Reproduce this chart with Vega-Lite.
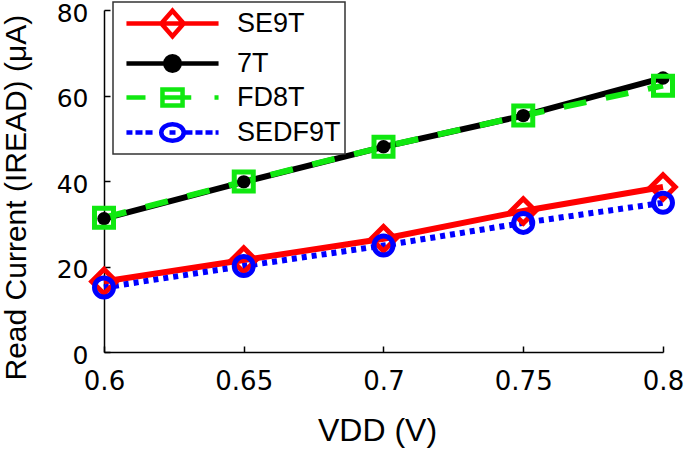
{
  "$schema": "https://vega.github.io/schema/vega-lite/v6.json",
  "width": 559,
  "height": 342,
  "autosize": {"type": "none"},
  "padding": {"left": 104, "top": 10, "right": 22, "bottom": 104},
  "background": "white",
  "config": {
    "view": {"stroke": null},
    "axis": {
      "grid": false,
      "domainColor": "black",
      "domainWidth": 1.5,
      "tickColor": "black",
      "tickWidth": 1.5,
      "tickSize": -6,
      "labelFont": "DejaVu Sans",
      "labelFontSize": 26,
      "labelColor": "black",
      "labelFlush": false,
      "labelOverlap": false,
      "titleFont": "Liberation Sans",
      "titleFontWeight": "normal",
      "titleColor": "black"
    },
    "legend": {
      "labelFont": "Liberation Sans",
      "labelFontSize": 27,
      "labelColor": "black",
      "fillColor": "white",
      "strokeColor": "#333333",
      "strokeWidth": 1.5,
      "padding": 4,
      "rowPadding": 0,
      "symbolSize": 900,
      "symbolStrokeWidth": 4.5,
      "symbolOffset": 38,
      "labelOffset": 47,
      "symbolOpacity": 1,
      "symbolFillColor": "transparent"
    }
  },
  "data": {
    "values": [
      {"v": 0.6, "s": "SE9T", "i": 16.5},
      {"v": 0.65, "s": "SE9T", "i": 21.5},
      {"v": 0.7, "s": "SE9T", "i": 26.5},
      {"v": 0.75, "s": "SE9T", "i": 33},
      {"v": 0.8, "s": "SE9T", "i": 38.6},
      {"v": 0.6, "s": "7T", "i": 31.2},
      {"v": 0.65, "s": "7T", "i": 39.8},
      {"v": 0.7, "s": "7T", "i": 48},
      {"v": 0.75, "s": "7T", "i": 55.3},
      {"v": 0.8, "s": "7T", "i": 64.1},
      {"v": 0.6, "s": "FD8T", "i": 31.4},
      {"v": 0.65, "s": "FD8T", "i": 39.9},
      {"v": 0.7, "s": "FD8T", "i": 48},
      {"v": 0.75, "s": "FD8T", "i": 55.3},
      {"v": 0.8, "s": "FD8T", "i": 62.3},
      {"v": 0.6, "s": "SEDF9T", "i": 15.1},
      {"v": 0.65, "s": "SEDF9T", "i": 20.1},
      {"v": 0.7, "s": "SEDF9T", "i": 24.9},
      {"v": 0.75, "s": "SEDF9T", "i": 30.2},
      {"v": 0.8, "s": "SEDF9T", "i": 34.9}
    ]
  },
  "encoding": {
    "x": {
      "field": "v",
      "type": "quantitative",
      "scale": {"domain": [0.6, 0.8], "nice": false, "zero": false},
      "axis": {
        "values": [0.6, 0.65, 0.7, 0.75, 0.8],
        "labelExpr": "'' + datum.value",
        "labelPadding": 22,
        "title": "VDD (V)",
        "titleFontSize": 32,
        "titleX": 273,
        "titleY": 88,
        "titleBaseline": "alphabetic"
      }
    },
    "y": {
      "field": "i",
      "type": "quantitative",
      "scale": {"domain": [0, 80], "nice": false},
      "axis": {
        "values": [0, 20, 40, 60, 80],
        "labelPadding": 22,
        "labelOffset": 3,
        "labelFontSize": 25,
        "title": "Read Current (IREAD) (μA)",
        "titleFontSize": 30,
        "titleAngle": 270,
        "titleAlign": "left",
        "titleBaseline": "alphabetic",
        "titleX": -79,
        "titleY": 370
      }
    }
  },
  "layer": [
    {
      "transform": [{"filter": "datum.s === '7T'"}],
      "mark": {"type": "line", "color": "black", "strokeWidth": 6}
    },
    {
      "transform": [{"filter": "datum.s === 'FD8T'"}],
      "mark": {"type": "line", "color": "#10e810", "strokeWidth": 6, "strokeDash": [23, 20]}
    },
    {
      "transform": [{"filter": "datum.s === 'SE9T'"}],
      "mark": {"type": "line", "color": "#ff0000", "strokeWidth": 6}
    },
    {
      "transform": [{"filter": "datum.s === 'SEDF9T'"}],
      "mark": {"type": "line", "color": "#0000ff", "strokeWidth": 6, "strokeDash": [5, 5]}
    },
    {
      "transform": [{"filter": "datum.s === '7T'"}],
      "mark": {"type": "point", "shape": "circle", "filled": true, "color": "black", "size": 180, "opacity": 1}
    },
    {
      "transform": [{"filter": "datum.s === 'FD8T'"}],
      "mark": {"type": "point", "shape": "square", "filled": false, "color": "#10e810", "size": 361, "strokeWidth": 5, "opacity": 1}
    },
    {
      "transform": [{"filter": "datum.s === 'SE9T'"}],
      "mark": {"type": "point", "shape": "diamond", "filled": false, "color": "#ff0000", "size": 600, "strokeWidth": 5, "opacity": 1}
    },
    {
      "transform": [{"filter": "datum.s === 'SEDF9T'"}],
      "mark": {"type": "point", "shape": "circle", "filled": false, "color": "#0000ff", "size": 360, "strokeWidth": 5, "opacity": 1}
    },
    {
      "mark": {"type": "point", "filled": false, "opacity": 0, "size": 900, "strokeWidth": 4.5},
      "encoding": {
        "stroke": {
          "field": "s",
          "type": "nominal",
          "scale": {
            "domain": ["SE9T", "7T", "FD8T", "SEDF9T"],
            "range": ["#ff0000", "#000000", "#10e810", "#0000ff"]
          },
          "legend": {"title": null, "orient": "none", "legendX": 9, "legendY": -8}
        },
        "shape": {
          "field": "s",
          "type": "nominal",
          "scale": {
            "domain": ["SE9T", "7T", "FD8T", "SEDF9T"],
            "range": [
              "M-3.07,0H3.07M0,-0.85L0.75,0L0,0.85L-0.75,0Z",
              "M-3.07,0H3.07M-0.48,0C-0.48,-0.265,-0.265,-0.48,0,-0.48C0.265,-0.48,0.48,-0.265,0.48,0C0.48,0.265,0.265,0.48,0,0.48C-0.265,0.48,-0.48,0.265,-0.48,0ZM-0.23,0C-0.23,-0.127,-0.127,-0.23,0,-0.23C0.127,-0.23,0.23,-0.127,0.23,0C0.23,0.127,0.127,0.23,0,0.23C-0.127,0.23,-0.23,0.127,-0.23,0ZM-0.05,0H0.05",
              "M-3.07,0H-1.8M-0.67,0H1.25M2.8,0H3.07M-0.67,-0.53H0.67V0.53H-0.67Z",
              "M-3.07,0H-2.67M-2.47,0H-2.0M-1.8,0H-1.33M0.87,0H1.33M1.53,0H2.0M2.2,0H2.67M2.87,0H3.07M-0.2,0H0.2M-0.75,0C-0.75,-0.304,-0.414,-0.55,0,-0.55C0.414,-0.55,0.75,-0.304,0.75,0C0.75,0.304,0.414,0.55,0,0.55C-0.414,0.55,-0.75,0.304,-0.75,0Z"
            ]
          },
          "legend": {"title": null, "orient": "none", "legendX": 9, "legendY": -8}
        }
      }
    }
  ]
}
